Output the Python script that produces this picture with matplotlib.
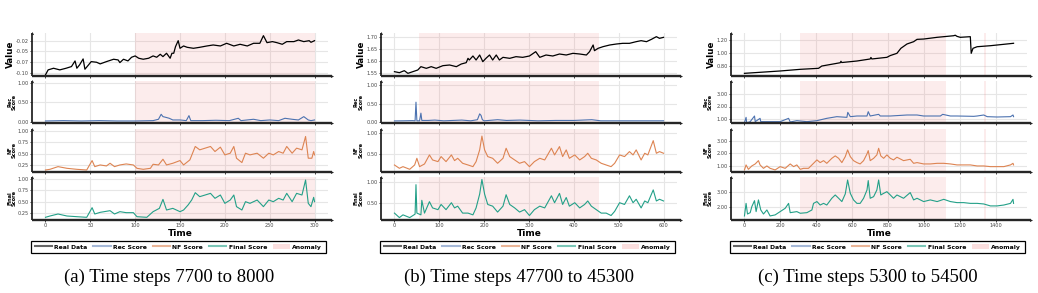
import matplotlib

matplotlib.use("Agg")

import matplotlib.pyplot as plt
from matplotlib.lines import Line2D
from matplotlib.patches import Patch

# ---------------- panel (a): steps 7700-8000 ----------------
a_real_t = [0, 3, 9, 16, 23, 29, 33, 35, 38, 42, 44, 48, 51, 57, 61, 68, 76, 81, 83, 87,
            92, 96, 100, 104, 109, 115, 120, 124, 128, 131, 135, 139, 141, 143, 145, 148, 150, 154, 158, 165,
            172, 180, 187, 195, 202, 210, 217, 225, 232, 239, 243, 247, 253, 258, 264, 269, 277, 282, 288, 294,
            296, 300]
a_real_v = [-0.1044, -0.0928, -0.0890, -0.0928, -0.0890, -0.0851, -0.0720, -0.0890, -0.0813, -0.0674,
            -0.0913, -0.0813, -0.0736, -0.0751, -0.0789, -0.0736, -0.0681, -0.0697, -0.0759, -0.0681,
            -0.0720, -0.0635, -0.0604, -0.0658, -0.0681, -0.0658, -0.0604, -0.0635, -0.0566, -0.0620,
            -0.0542, -0.0658, -0.0542, -0.0542, -0.0388, -0.0250, -0.0427, -0.0373, -0.0404, -0.0427,
            -0.0404, -0.0373, -0.0350, -0.0373, -0.0311, -0.0373, -0.0334, -0.0373, -0.0311, -0.0311,
            -0.0134, -0.0296, -0.0272, -0.0296, -0.0334, -0.0272, -0.0272, -0.0234, -0.0272, -0.0250,
            -0.0288, -0.0250]
a_rec_t = [0, 20, 40, 60, 80, 100, 120, 126, 129, 131, 134, 138, 142, 150, 157, 160, 162, 175,
           190, 205, 215, 218, 232, 240, 250, 260, 267, 275, 282, 288, 293, 296, 300]
a_rec_v = [0.018, 0.027, 0.018, 0.027, 0.018, 0.018, 0.027, 0.062, 0.192, 0.131, 0.114, 0.088, 0.044,
           0.044, 0.027, 0.157, 0.027, 0.027, 0.036, 0.027, 0.088, 0.027, 0.062, 0.027, 0.044, 0.027,
           0.088, 0.062, 0.044, 0.131, 0.044, 0.027, 0.044]
a_nf_t = [0, 5, 14, 24, 35, 46, 52, 55, 61, 68, 72, 77, 83, 90, 98, 102, 109, 117, 120, 126,
          131, 135, 142, 150, 154, 161, 167, 172, 178, 184, 189, 195, 200, 206, 210, 213, 219, 223, 228, 236,
          243, 249, 254, 260, 265, 269, 275, 280, 286, 290, 293, 297, 299, 300]
a_nf_v = [0.139, 0.154, 0.213, 0.176, 0.154, 0.139, 0.346, 0.213, 0.250, 0.228, 0.287, 0.213, 0.250,
          0.272, 0.250, 0.176, 0.154, 0.176, 0.265, 0.250, 0.375, 0.250, 0.287, 0.346, 0.250, 0.361,
          0.656, 0.582, 0.619, 0.656, 0.545, 0.641, 0.471, 0.508, 0.656, 0.398, 0.302, 0.508, 0.471,
          0.508, 0.398, 0.508, 0.471, 0.545, 0.508, 0.656, 0.508, 0.619, 0.582, 0.876, 0.398, 0.398,
          0.545, 0.471]
a_fin_t = [0, 5, 14, 24, 35, 46, 52, 55, 61, 72, 77, 83, 90, 98, 102, 113, 120, 127, 131, 135,
           142, 150, 154, 159, 163, 167, 172, 178, 184, 189, 195, 200, 206, 210, 213, 219, 223, 228, 236, 243,
           249, 254, 260, 265, 269, 275, 280, 286, 290, 293, 296, 299, 300]
a_fin_v = [0.147, 0.176, 0.221, 0.176, 0.161, 0.147, 0.362, 0.221, 0.258, 0.295, 0.221, 0.273, 0.251,
           0.251, 0.161, 0.147, 0.273, 0.347, 0.548, 0.310, 0.347, 0.273, 0.310, 0.422, 0.533, 0.697,
           0.608, 0.645, 0.682, 0.571, 0.645, 0.459, 0.533, 0.645, 0.385, 0.310, 0.496, 0.459, 0.533,
           0.385, 0.533, 0.496, 0.571, 0.533, 0.682, 0.496, 0.682, 0.645, 0.980, 0.459, 0.385, 0.593,
           0.496]
a_anomaly = [(100, 300)]

# ---------------- panel (b): steps 47700-45300 ----------------
b_real_t = [0, 11, 22, 30, 41, 52, 59, 71, 82, 93, 108, 123, 138, 149, 160, 164, 167, 175, 182, 190,
            197, 204, 212, 219, 227, 234, 242, 257, 271, 286, 301, 315, 324, 338, 353, 368, 383, 398, 413, 428,
            435, 443, 446, 454, 465, 480, 495, 509, 524, 539, 550, 562, 573, 584, 591, 600]
b_real_v = [1.5556, 1.5514, 1.5598, 1.5486, 1.5556, 1.5626, 1.5766, 1.5696, 1.5766, 1.5696,
            1.5808, 1.5836, 1.5766, 1.5878, 1.5934, 1.6116, 1.6046, 1.6214, 1.6046, 1.6256,
            1.5976, 1.6116, 1.6256, 1.6046, 1.6256, 1.6046, 1.6158, 1.6116, 1.6186, 1.6158,
            1.6214, 1.6396, 1.6158, 1.6256, 1.6214, 1.6298, 1.6256, 1.6326, 1.6298, 1.6256,
            1.6396, 1.6676, 1.6438, 1.6536, 1.6606, 1.6676, 1.6718, 1.6746, 1.6746, 1.6816,
            1.6858, 1.6816, 1.6914, 1.7026, 1.6956, 1.6998]
b_rec_t = [0, 20, 40, 46, 48, 50, 56, 59, 61, 75, 90, 110, 130, 150, 170, 185, 190, 193, 196, 200,
           230, 250, 280, 320, 360, 400, 440, 460, 500, 550, 600]
b_rec_v = [0.027, 0.030, 0.035, 0.030, 0.540, 0.030, 0.030, 0.240, 0.040, 0.040, 0.050, 0.030,
           0.040, 0.050, 0.030, 0.060, 0.220, 0.180, 0.060, 0.030, 0.060, 0.040, 0.050, 0.030,
           0.040, 0.040, 0.060, 0.030, 0.030, 0.030, 0.030]
b_nf_t = [0, 11, 19, 34, 45, 50, 56, 67, 78, 85, 97, 104, 115, 127, 134, 141, 152, 164, 175, 182,
          190, 195, 201, 208, 219, 230, 242, 249, 257, 268, 279, 290, 301, 312, 324, 335, 350, 357, 368, 375,
          383, 390, 402, 413, 424, 431, 439, 450, 461, 472, 483, 491, 502, 513, 524, 532, 539, 550, 558, 565,
          577, 584, 591, 600]
b_nf_v = [0.234, 0.154, 0.194, 0.130, 0.234, 0.395, 0.194, 0.258, 0.476, 0.355, 0.315, 0.436,
          0.315, 0.476, 0.339, 0.395, 0.275, 0.234, 0.194, 0.315, 0.597, 0.930, 0.597, 0.436,
          0.395, 0.275, 0.395, 0.637, 0.436, 0.355, 0.275, 0.315, 0.194, 0.315, 0.395, 0.355,
          0.637, 0.476, 0.677, 0.436, 0.597, 0.395, 0.476, 0.355, 0.436, 0.516, 0.395, 0.355,
          0.275, 0.234, 0.194, 0.275, 0.476, 0.436, 0.556, 0.476, 0.597, 0.355, 0.516, 0.476,
          0.820, 0.516, 0.556, 0.516]
b_fin_t = [0, 11, 19, 34, 46, 48, 50, 59, 61, 67, 78, 85, 97, 104, 115, 127, 134, 141, 152, 164,
           175, 182, 190, 195, 201, 208, 219, 230, 242, 249, 257, 268, 279, 290, 301, 312, 324, 335, 350, 357,
           368, 375, 383, 390, 402, 413, 424, 431, 439, 450, 461, 472, 483, 491, 502, 513, 524, 532, 539, 550,
           558, 565, 577, 584, 591, 600]
b_fin_v = [0.251, 0.143, 0.209, 0.143, 0.226, 0.935, 0.251, 0.209, 0.559, 0.251, 0.526, 0.376,
           0.334, 0.459, 0.334, 0.501, 0.376, 0.418, 0.251, 0.251, 0.209, 0.376, 0.709, 1.060,
           0.709, 0.459, 0.418, 0.276, 0.418, 0.693, 0.459, 0.376, 0.276, 0.334, 0.193, 0.334,
           0.418, 0.376, 0.668, 0.501, 0.726, 0.459, 0.626, 0.418, 0.501, 0.376, 0.459, 0.543,
           0.418, 0.334, 0.251, 0.251, 0.193, 0.293, 0.501, 0.459, 0.668, 0.501, 0.584, 0.376,
           0.543, 0.501, 0.809, 0.543, 0.584, 0.543]
b_anomaly = [(55, 455)]

# ---------------- panel (c): steps 5300-54500 ----------------
c_real_t = [0, 199, 311, 413, 431, 534, 538, 542, 627, 701, 705, 710, 794, 813, 850, 872, 906, 943,
            962, 999, 1074, 1166, 1175, 1185, 1203, 1259, 1264, 1274, 1297, 1371, 1446, 1500]
c_real_v = [0.680, 0.717, 0.743, 0.759, 0.795, 0.847, 0.870, 0.850, 0.874, 0.906, 0.930, 0.906,
            0.932, 0.960, 0.995, 1.074, 1.142, 1.178, 1.215, 1.220, 1.247, 1.272, 1.280, 1.262,
            1.247, 1.257, 0.995, 1.074, 1.099, 1.115, 1.137, 1.153]
c_rec_t = [0, 9, 12, 17, 32, 56, 60, 87, 91, 143, 199, 246, 255, 292, 348, 404, 459, 515, 571, 576,
           590, 627, 683, 690, 701, 748, 757, 813, 906, 962, 999, 1092, 1105, 1148, 1185, 1278, 1297, 1334,
           1353, 1408, 1483, 1497, 1500]
c_rec_v = [0.707, 1.133, 0.750, 0.707, 0.787, 1.240, 0.787, 1.053, 0.787, 0.787, 0.787, 1.053,
           0.760, 0.867, 0.787, 0.867, 1.053, 1.187, 1.133, 1.533, 1.187, 1.240, 1.240, 1.587,
           1.240, 1.373, 1.240, 1.240, 1.320, 1.320, 1.240, 1.240, 1.373, 1.240, 1.240, 1.213,
           1.240, 1.320, 1.187, 1.160, 1.187, 1.320, 1.187]
c_nf_t = [0, 9, 22, 41, 60, 78, 87, 106, 125, 143, 171, 199, 227, 255, 274, 292, 311, 329, 357, 385,
          404, 422, 441, 459, 487, 506, 525, 543, 562, 575, 590, 608, 627, 645, 664, 683, 690, 701, 720, 738,
          748, 760, 776, 794, 813, 831, 850, 887, 924, 943, 962, 999, 1036, 1074, 1111, 1148, 1185, 1222, 1259,
          1297, 1334, 1371, 1408, 1446, 1483, 1497, 1500]
c_nf_v = [0.65, 1.06, 0.70, 0.975, 1.14, 1.41, 1.06, 0.78, 0.975, 0.78, 0.65, 0.92, 0.78, 1.14,
          0.92, 1.06, 0.70, 0.78, 0.78, 1.19, 1.47, 1.25, 1.41, 1.19, 1.60, 1.80, 1.60, 1.25, 1.74,
          2.29, 1.74, 1.41, 1.25, 1.14, 1.41, 1.96, 2.23, 1.41, 1.60, 1.88, 2.42, 1.80, 1.60, 1.88,
          1.60, 1.47, 1.69, 1.41, 1.52, 1.19, 1.25, 1.14, 1.14, 1.19, 1.19, 1.14, 1.06, 1.06, 1.06,
          0.975, 0.975, 0.92, 0.92, 0.92, 1.06, 1.19, 1.06]
c_fin_t = [0, 9, 17, 32, 41, 56, 65, 78, 91, 106, 125, 143, 171, 199, 227, 246, 255, 292, 311, 348,
           376, 385, 404, 422, 441, 459, 487, 506, 525, 543, 562, 575, 590, 608, 627, 645, 664, 683, 690, 701,
           720, 738, 748, 760, 776, 794, 813, 831, 850, 887, 924, 943, 962, 999, 1036, 1074, 1111, 1148, 1185,
           1222, 1259, 1297, 1334, 1371, 1408, 1446, 1483, 1497, 1500]
c_fin_v = [1.38, 2.22, 1.51, 1.60, 2.00, 2.40, 1.67, 2.45, 1.78, 1.51, 1.78, 1.38, 1.45, 1.67,
           1.89, 2.22, 1.60, 1.67, 1.56, 1.60, 1.78, 2.22, 2.34, 2.11, 2.22, 2.11, 2.56, 2.78, 2.56,
           2.34, 2.85, 3.78, 2.89, 2.45, 2.22, 2.22, 2.56, 3.11, 3.74, 2.56, 2.67, 3.11, 3.78, 2.78,
           2.89, 3.00, 2.78, 2.56, 2.78, 2.56, 2.94, 2.45, 2.56, 2.34, 2.45, 2.34, 2.49, 2.34, 2.27,
           2.27, 2.22, 2.22, 2.18, 2.05, 2.05, 2.11, 2.22, 2.49, 2.22]
c_anomaly = [(307, 1125), (1338, 1348)]

captions = ["(a) Time steps 7700 to 8000",
            "(b) Time steps 47700 to 45300",
            "(c) Time steps 5300 to 54500"]
legend_labels = ["Real Data", "Rec Score", "NF Score", "Final Score", "Anomaly"]

C_REAL = "#000000"
C_REC = "#4c72b0"
C_NF = "#dd8452"
C_FIN = "#23a088"
C_ANOM = "#f08080"
SPINE = "#262626"

W, H = 1038, 293
fig = plt.figure(figsize=(W / 100, H / 100), dpi=100)

ROWS = [(33, 76), (81, 123), (129, 172), (177, 220)]
AX_W = 296

panels = [
    dict(left=32, xlim=(-15, 315), xticks=[0, 50, 100, 150, 200, 250, 300], cap_x=169,
         anomaly=a_anomaly, lab_x=[-0.057, -0.051, -0.051, -0.051],
         rows=[(a_real_t, a_real_v, C_REAL, (-0.107, -0.0072), [-0.1, -0.075, -0.05, -0.025],
                ["-0.10", "-0.07", "-0.05", "-0.02"], "Value"),
               (a_rec_t, a_rec_v, C_REC, (-0.035, 1.06), [0, 0.5, 1.0], None, "Rec\nScore"),
               (a_nf_t, a_nf_v, C_NF, (0.095, 1.04), [0.25, 0.5, 0.75, 1.0], None, "NF\nScore"),
               (a_fin_t, a_fin_v, C_FIN, (0.087, 1.047), [0.25, 0.5, 0.75, 1.0], None, "Final\nScore")]),
    dict(left=381, xlim=(-30, 630), xticks=[0, 100, 200, 300, 400, 500, 600], cap_x=519,
         anomaly=b_anomaly, lab_x=[-0.051, -0.06, -0.06, -0.06],
         rows=[(b_real_t, b_real_v, C_REAL, (1.5374, 1.718), [1.55, 1.60, 1.65, 1.70], None, "Value"),
               (b_rec_t, b_rec_v, C_REC, (-0.03, 1.12), [0, 0.5, 1.0], None, "Rec\nScore"),
               (b_nf_t, b_nf_v, C_NF, (0.065, 1.10), [0.5, 1.0], None, "NF\nScore"),
               (b_fin_t, b_fin_v, C_FIN, (0.085, 1.12), [0.5, 1.0], None, "Final\nScore")]),
    dict(left=731, xlim=(-75, 1575), xticks=[0, 200, 400, 600, 800, 1000, 1200, 1400], cap_x=868,
         anomaly=c_anomaly, lab_x=[-0.051, -0.061, -0.061, -0.061],
         rows=[(c_real_t, c_real_v, C_REAL, (0.638, 1.315), [0.8, 1.0, 1.2], None, "Value"),
               (c_rec_t, c_rec_v, C_REC, (0.68, 4.04), [1, 2, 3], None, "Rec\nScore"),
               (c_nf_t, c_nf_v, C_NF, (0.48, 4.0), [1, 2, 3], None, "NF\nScore"),
               (c_fin_t, c_fin_v, C_FIN, (1.11, 3.98), [2, 3], None, "Final\nScore")]),
]


def draw_arrow_spines(ax):
    for side in ["top", "right", "left", "bottom"]:
        ax.spines[side].set_visible(False)
    kw = dict(transform=ax.transAxes, clip_on=False, color=SPINE, zorder=5)
    ax.add_line(Line2D([0, 1.012], [0, 0], lw=1.7, solid_capstyle="butt", **kw))
    ax.add_line(Line2D([0, 0], [0, 1.0], lw=1.3, solid_capstyle="butt", **kw))
    ax.plot([1.012], [0], marker=">", ms=2.2, mew=0, **kw)
    ax.plot([0], [1.0], marker="^", ms=2.2, mew=0, **kw)


for p_idx, p in enumerate(panels):
    axes = []
    for r_idx, (t, v, color, ylim, yticks, ylabels, ylabel) in enumerate(p["rows"]):
        top, bottom = ROWS[r_idx]
        ax = fig.add_axes([p["left"] / W, 1 - bottom / H, AX_W / W, (bottom - top) / H])
        ax.set_axisbelow(True)
        ax.grid(True, color="#e6e6e6", lw=0.8)
        for s, e in p["anomaly"]:
            ax.axvspan(s, e, color=C_ANOM, alpha=0.15, lw=0, zorder=1)
        lw = 0.9 if r_idx == 0 else 0.8
        ax.plot(t, v, color=color, lw=lw, zorder=3)
        ax.set_xlim(*p["xlim"])
        ax.set_ylim(*ylim)
        ax.set_xticks(p["xticks"])
        ax.set_yticks(yticks)
        if ylabels is None:
            ylabels = ["%.2f" % y for y in yticks]
        ax.set_yticklabels(ylabels)
        ax.tick_params(axis="both", length=1.5, width=0.6, color=SPINE, pad=1,
                       labelsize=3.6, labelcolor="#444444")
        if r_idx < 3:
            ax.tick_params(axis="x", labelbottom=False)
        draw_arrow_spines(ax)
        if r_idx == 0:
            ax.set_ylabel(ylabel, fontsize=6.3, fontweight="bold")
        else:
            ax.set_ylabel(ylabel, fontsize=3.6, fontweight="bold", linespacing=0.95)
        ax.yaxis.set_label_coords(p["lab_x"][r_idx], 0.5)
        axes.append(ax)

    axes[-1].set_xlabel("Time", fontsize=6.5, fontweight="bold", labelpad=0.5)

    handles = [Line2D([0], [0], color=C_REAL, lw=1.5, alpha=0.6),
               Line2D([0], [0], color=C_REC, lw=1.5, alpha=0.5),
               Line2D([0], [0], color=C_NF, lw=1.5, alpha=0.6),
               Line2D([0], [0], color=C_FIN, lw=1.5, alpha=0.6),
               Patch(facecolor=C_ANOM, alpha=0.25, lw=0)]
    leg = fig.legend(handles, legend_labels, loc="center", ncol=5, mode="expand",
                     bbox_to_anchor=((p["left"] - 1) / W, 1 - 255 / H, 295 / W, 16 / H),
                     prop=dict(size=4.4, weight="bold"), handlelength=2.8, handletextpad=0.4,
                     fancybox=False, framealpha=1, edgecolor="black", borderpad=0.6,
                     borderaxespad=0)
    leg.get_frame().set_linewidth(0.9)

    fig.text(p["cap_x"] / W, 1 - 277 / H, captions[p_idx], ha="center", va="center",
             family="Liberation Serif", fontsize=13.5)

fig.savefig("out.png", dpi=100)
